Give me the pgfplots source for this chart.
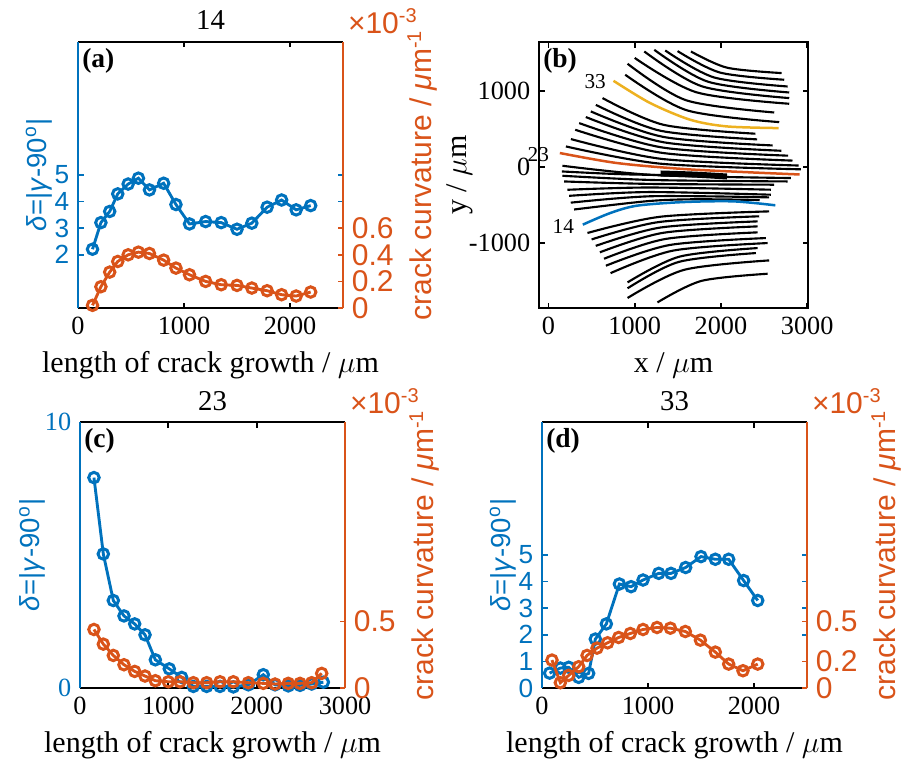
\documentclass[border=0pt]{standalone}
\usepackage{fontspec}
\setmainfont{Liberation Serif}
\setsansfont{Liberation Sans}
\usepackage{pgfplots}
\pgfplotsset{compat=1.18}
\definecolor{mblue}{RGB}{0,114,189}
\definecolor{morange}{RGB}{217,83,25}
\definecolor{myellow}{RGB}{237,177,32}

\newcommand{\ttl}[1]{\node[anchor=base, font=\rmfamily\fontsize{11.5}{13}\selectfont, inner sep=0pt, yshift=4.8pt] at (axis description cs:0.5,1) {#1};}
\newcommand{\plab}[1]{\node[anchor=north west, font=\rmfamily\bfseries\fontsize{11}{13}\selectfont, inner sep=0pt, xshift=1.5pt, yshift=-2.2pt] at (axis description cs:0,1) {#1};}
\newcommand{\scl}{\node[anchor=base west, text=morange, font=\sffamily\fontsize{12}{14}\selectfont, inner sep=0pt, xshift=1.8pt, yshift=3.6pt] at (axis description cs:1,1) {×10\textsuperscript{-3}};}

\pgfplotsset{
 base/.style={scale only axis, clip=false, tick align=inside, major tick length=2.2pt,
   /pgf/number format/assume math mode=true, /pgf/number format/set thousands separator={},
   font=\fontsize{10}{12}\selectfont,
   every tick/.style={black, line width=0.7pt}, axis line style={line width=1.1pt},
   height=106.4pt, width=106pt,
   xticklabel style={font=\rmfamily\fontsize{10.5}{12}\selectfont},
   xlabel style={font=\rmfamily\fontsize{12}{14}\selectfont, at={(axis description cs:0.5,-0.215)}, anchor=center}},
 leftax/.style={base, separate axis lines, y axis line style={mblue}, x axis line style={black},
   every y tick/.append style={mblue},
   xtick pos=both, ytick pos=both, yticklabel pos=left, xticklabel pos=left,
   yticklabel style={text=mblue, font=\sffamily\fontsize{10.5}{12}\selectfont},
   ylabel={\textit{δ}=|\textit{γ}-90\textsuperscript{o}|},
   ylabel style={text=mblue, font=\sffamily\fontsize{11}{13}\selectfont, at={(axis description cs:-0.148,0.5)}, anchor=center},
   xlabel={length of crack growth / $\mu$m}, ymin=0, ymax=10},
 rightax/.style={base, axis y line*=right, axis x line=none, y axis line style={morange},
   every y tick/.append style={morange},
   yticklabel style={text=morange, font=\sffamily\fontsize{12}{14}\selectfont},
   ylabel={crack curvature / \textit{μ}m\textsuperscript{-1}},
   ylabel style={text=morange, font=\sffamily\fontsize{12}{14}\selectfont, at={(axis description cs:1.30,0.5)}, anchor=center},
   ymin=0, ymax=2},
 bser/.style={mblue, line width=1.15pt, mark=o, mark size=2.1pt, mark options={solid, line width=1.2pt}},
 oser/.style={morange, line width=1.15pt, mark=o, mark size=2.1pt, mark options={solid, line width=1.2pt}},
 crk/.style={black, line width=0.85pt, smooth},
}

\begin{document}
\begin{tikzpicture}[x=1pt,y=1pt]
\path[use as bounding box] (0,0) rectangle (360.4,306);

% ---------------- (a)
\begin{axis}[leftax, at={(31.2pt,182.8pt)}, anchor=south west, xmin=0, xmax=2500, xtick={0,1000,2000}, ytick={2,3,4,5}]
\addplot[bser] coordinates {(137,2.21)(216,3.21)(299,3.63)(375,4.29)(473,4.66)(570,4.88)(674,4.44)(808,4.69)(924,3.89)(1052,3.16)(1204,3.25)(1351,3.21)(1500,2.96)(1640,3.19)(1784,3.79)(1921,4.06)(2058,3.69)(2195,3.85)};
\plab{(a)}
\ttl{14}
\end{axis}
\begin{axis}[rightax, at={(31.2pt,182.8pt)}, anchor=south west, xmin=0, xmax=2500, ytick={0,0.2,0.4,0.6}]
\addplot[oser] coordinates {(137,0.02)(216,0.16)(299,0.27)(375,0.35)(473,0.40)(570,0.42)(674,0.41)(808,0.36)(924,0.30)(1052,0.25)(1204,0.20)(1351,0.175)(1500,0.17)(1640,0.15)(1784,0.13)(1921,0.10)(2058,0.09)(2195,0.12)};
\scl
\end{axis}

% ---------------- (b)
\begin{axis}[base, at={(215.6pt,182.8pt)}, anchor=south west, width=107.6pt,
  xmin=-110, xmax=3010, ymin=-1860, ymax=1650, xtick={0,1000,2000,3000}, ytick={-1000,0,1000},
  xtick pos=both, ytick pos=both, xticklabel pos=left, yticklabel pos=left,
  yticklabel style={font=\rmfamily\fontsize{10.5}{12}\selectfont},
  xlabel={x / $\mu$m}, ylabel={y / $\mu$m},
  ylabel style={font=\rmfamily\fontsize{12}{14}\selectfont, at={(axis description cs:-0.295,0.5)}, anchor=center}]
\addplot[crk] coordinates {(1652,1525) (2072,1311) (2703,1240)};
\addplot[crk] coordinates {(1497,1530) (1992,1246) (2734,1152)};
\addplot[crk] coordinates {(1354,1538) (1922,1182) (2773,1063)};
\addplot[crk] coordinates {(1227,1547) (1853,1125) (2792,984)};
\addplot[crk] coordinates {(1111,1525) (1783,1064) (2792,910)};
\addplot[crk] coordinates {(1000,1440) (1717,986) (2792,835)};
\addplot[crk] coordinates {(917,1363) (1597,881) (2618,720)};
\addplot[crk] coordinates {(890,1218) (1604,749) (2676,593)};
\addplot[crk] coordinates {(627,910) (1336,557) (2400,440)};
\addplot[crk] coordinates {(550,820) (1298,479) (2420,365)};
\addplot[crk] coordinates {(491,734) (1335,397) (2600,285)};
\addplot[crk] coordinates {(433,660) (1340,326) (2700,215)};
\addplot[crk] coordinates {(356,580) (1326,257) (2780,150)};
\addplot[crk] coordinates {(310,492) (1318,187) (2830,85)};
\addplot[crk] coordinates {(260,369) (1316,107) (2900,20)};
\addplot[crk] coordinates {(202,272) (1292,45) (2928,-30)};
\addplot[crk] coordinates {(162,17) (1222,-105) (2812,-145)};
\addplot[crk] coordinates {(155,-58) (921,-97) (2070,-115)};
\addplot[crk] coordinates {(162,-115) (1206,-171) (2773,-190)};
\addplot[crk] coordinates {(181,-190) (1156,-222) (2618,-233)};
\addplot[crk] coordinates {(220,-300) (1164,-270) (2580,-299)};
\addplot[crk] coordinates {(239,-380) (1160,-330) (2580,-365)};
\addplot[crk] coordinates {(258,-470) (1200,-385) (2560,-400)};
\addplot[crk] coordinates {(297,-560) (1150,-450) (1700,-425) (2450,-435)};
\addplot[black, line width=2.4pt, smooth] coordinates {(1300,-85) (1700,-100) (2070,-125)};
\addplot[crk] coordinates {(452,-870) (1295,-656) (2560,-585)};
\addplot[crk] coordinates {(500,-955) (1278,-726) (2444,-650)};
\addplot[crk] coordinates {(548,-1040) (1299,-798) (2425,-717)};
\addplot[crk] coordinates {(596,-1125) (1328,-868) (2425,-783)};
\addplot[crk] coordinates {(644,-1210) (1356,-949) (2425,-862)};
\addplot[crk] coordinates {(666,-1302) (1408,-1028) (2522,-937)};
\addplot[crk] coordinates {(720,-1400) (1448,-1102) (2541,-1003)};
\addplot[crk] coordinates {(917,-1522) (1520,-1182) (2425,-1069)};
\addplot[crk] coordinates {(917,-1600) (1513,-1251) (2406,-1135)};
\addplot[crk] coordinates {(917,-1728) (1574,-1356) (2560,-1232)};
\addplot[crk] coordinates {(1264,-1786) (1775,-1502) (2541,-1408)};
\addplot[myellow, line width=1pt, smooth] coordinates {(754,1138) (1180,844) (1644,624) (2070,536) (2669,514)};
\addplot[morange, line width=1pt, smooth] coordinates {(132,185) (793,53) (1567,-26) (2340,-70) (2913,-98)};
\addplot[mblue, line width=1pt, smooth] coordinates {(398,-760) (716,-607) (1025,-510) (1567,-462) (2147,-453) (2631,-505)};
\node[anchor=east, font=\rmfamily\fontsize{8.5}{10}\selectfont, inner sep=1pt] at (axis cs:700,1130) {33};
\node[anchor=east, font=\rmfamily\fontsize{8.5}{10}\selectfont, inner sep=1pt] at (axis cs:40,170) {23};
\node[anchor=east, font=\rmfamily\fontsize{8.5}{10}\selectfont, inner sep=1pt] at (axis cs:330,-784) {14};
\plab{(b)}
\end{axis}

% ---------------- (c)
\begin{axis}[leftax, at={(32pt,30.8pt)}, anchor=south west, xmin=0, xmax=3000, xtick={0,1000,2000,3000}, ytick={0,10},
  yticklabel style={font=\rmfamily\fontsize{10.5}{12}\selectfont},
  ylabel style={at={(axis description cs:-0.18,0.5)}}]
\addplot[bser] coordinates {(158,7.91)(264,5.04)(377,3.29)(498,2.71)(619,2.41)(736,2.0)(853,1.06)(1011,0.72)(1151,0.40)(1283,0.06)(1434,0.06)(1585,0.06)(1736,0.04)(1906,0.12)(2075,0.50)(2208,0.12)(2358,0.08)(2491,0.10)(2623,0.15)(2755,0.22)};
\plab{(c)}
\ttl{23}
\end{axis}
\begin{axis}[rightax, at={(32pt,30.8pt)}, anchor=south west, xmin=0, xmax=3000, ytick={0,0.5}]
\addplot[oser] coordinates {(158,0.44)(264,0.33)(377,0.245)(498,0.175)(619,0.125)(736,0.09)(853,0.055)(1000,0.047)(1132,0.047)(1283,0.04)(1434,0.04)(1585,0.047)(1736,0.047)(1906,0.04)(2075,0.035)(2208,0.03)(2358,0.035)(2491,0.035)(2623,0.04)(2736,0.11)};
\scl
\end{axis}

% ---------------- (d)
\begin{axis}[leftax, at={(216.8pt,30.8pt)}, anchor=south west, xmin=0, xmax=2500, xtick={0,1000,2000}, ytick={0,1,2,3,4,5}]
\addplot[bser] coordinates {(72,0.56)(173,0.75)(252,0.78)(346,0.40)(440,0.55)(503,1.84)(607,2.41)(730,3.91)(840,3.81)(953,4.06)(1101,4.31)(1217,4.31)(1355,4.53)(1500,4.94)(1635,4.84)(1761,4.84)(1902,4.04)(2035,3.29)};
\plab{(d)}
\ttl{33}
\end{axis}
\begin{axis}[rightax, at={(216.8pt,30.8pt)}, anchor=south west, xmin=0, xmax=2500, ytick={0,0.2,0.5}]
\addplot[oser] coordinates {(94,0.21)(173,0.04)(252,0.095)(346,0.16)(425,0.245)(519,0.30)(619,0.34)(723,0.38)(833,0.41)(953,0.44)(1085,0.455)(1211,0.45)(1352,0.425)(1494,0.36)(1635,0.27)(1761,0.18)(1896,0.13)(2035,0.18)};
\scl
\end{axis}
\end{tikzpicture}
\end{document}
